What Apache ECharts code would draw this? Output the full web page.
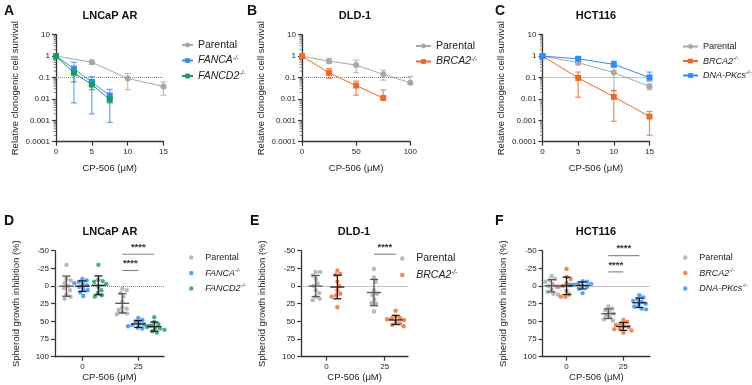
<!DOCTYPE html>
<html>
<head>
<meta charset="utf-8">
<script src="https://cdn.jsdelivr.net/npm/echarts@6/dist/echarts.min.js"></script>
<style>
  html, body { margin: 0; background: #fff; }
  #chart { width: 752px; height: 385px; }
</style>
</head>
<body>
<div id="chart"></div>
<script>
// ---- clonogenic survival (top row), relative survival, mean with error range ----
const aParentalX = [0, 5, 10, 15];
const aParentalY = [1, 0.52, 0.09, 0.038];
const aParentalLo = [null, 0.41, 0.027, 0.015];
const aParentalHi = [null, 0.65, 0.154, 0.063];
const aFancaX = [0, 2.5, 5, 7.5];
const aFancaY = [1, 0.26, 0.06, 0.0144];
const aFancaLo = [null, 0.0065, 0.002, 0.0008];
const aFancaHi = [null, 0.52, 0.11, 0.028];
const aFancd2X = [0, 2.5, 5, 7.5];
const aFancd2Y = [1, 0.166, 0.047, 0.0093];
const aFancd2Lo = [null, 0.063, 0.027, 0.0065];
const aFancd2Hi = [null, 0.24, 0.08, 0.011];

const bParentalX = [0, 25, 50, 75, 100];
const bParentalY = [1, 0.58, 0.38, 0.14, 0.057];
const bParentalLo = [null, 0.45, 0.17, 0.075, 0.05];
const bParentalHi = [null, 0.78, 0.65, 0.22, 0.11];
const bBrca2X = [0, 25, 50, 75];
const bBrca2Y = [1, 0.166, 0.042, 0.011];
const bBrca2Lo = [null, 0.09, 0.015, 0.011];
const bBrca2Hi = [null, 0.26, 0.068, 0.026];

const cParentalX = [0, 5, 10, 15];
const cParentalY = [1, 0.49, 0.17, 0.038];
const cParentalLo = [null, 0.38, 0.023, 0.027];
const cParentalHi = [null, 0.63, 0.4, 0.05];
const cBrca2X = [0, 5, 10, 15];
const cBrca2Y = [1, 0.096, 0.0125, 0.0015];
const cBrca2Lo = [null, 0.012, 0.0009, 0.0002];
const cBrca2Hi = [null, 0.18, 0.025, 0.0026];
const cDnapkX = [0, 5, 10, 15];
const cDnapkY = [1, 0.75, 0.41, 0.1];
const cDnapkLo = [null, 0.62, 0.3, 0.068];
const cDnapkHi = [null, 0.88, 0.58, 0.18];

// ---- spheroid growth inhibition (bottom row), individual spheroids ----
const doseLabels = ['0', '25'];
const dParental0 = [-30, -10, -8, -4, 0, 3, 6, 12, 15, 18];
const dFanca0 = [-10, -8, -6, -4, -3, -1, 1, 4, 6, 9, 14];
const dFancd20 = [-30, -9, -7, -6, -3, 1, 6, 10, 13, 15];
const dParental25 = [4, 6, 10, 15, 22, 30, 32, 34, 37, 39, 40];
const dFanca25 = [45, 48, 50, 53, 54, 55, 56, 57, 59, 60];
const dFancd225 = [44, 51, 54, 56, 58, 59, 60, 62, 64, 66];

const eParental0 = [-20, -20, -15, -10, -4, 0, 6, 10, 15, 18, 20];
const eBrca20 = [-22, -17, -16, -6, 0, 6, 11, 13, 15, 30];
const eParental25 = [-24, -12, -6, 6, 11, 13, 19, 24, 25, 36];
const eBrca225 = [35, 43, 45, 46, 47, 48, 51, 53, 55, 57];

const fParental0 = [-14, -10, -8, -6, -3, 0, 1, 5, 8, 11, 12];
const fBrca20 = [-24, -13, -10, -4, -2, 0, 1, 7, 12, 15, 15];
const fDnapk0 = [-7, -6, -4, -3, -2, -1, 0, 1, 4, 10];
const fParental25 = [29, 32, 34, 37, 39, 41, 44, 47, 49];
const fBrca225 = [48, 51, 53, 55, 57, 58, 60, 61, 63, 66];
const fDnapk25 = [13, 16, 19, 21, 22, 25, 27, 29, 32, 33];

// significance brackets: [dose index, from group, to group, y]
const dSig = [[1, 0, 1, -22], [1, 0, 2, -45]];
const eSig = [[1, 0, 1, -45]];
const fSig = [[1, 0, 1, -20], [1, 0, 2, -43]];

const GRAY = '#a8a8a8', BLUE = '#2f8cf0', ORANGE = '#ea6a2b', GREEN = '#1c9a5e';
const FONT = '"Liberation Sans", Arial, sans-serif';
const BOT_K = 106 / 150; // px per % on the bottom y axes

const chart = echarts.init(document.getElementById('chart'), null, { renderer: 'canvas' });

function mean(a) { return a.reduce((s, v) => s + v, 0) / a.length; }
function sd(a) { const m = mean(a); return Math.sqrt(a.reduce((s, v) => s + (v - m) * (v - m), 0) / (a.length - 1)); }

// simple beeswarm: horizontal pixel offsets so dots do not overlap
function swarm(vals, k, d) {
  const idx = vals.map((_, i) => i).sort((a, b) => vals[a] - vals[b]);
  const out = [], placed = [];
  idx.forEach(i => {
    const y = vals[i] * k;
    const near = placed.filter(p => Math.abs(p.y - y) < d);
    const cands = [0];
    near.forEach(p => { const w = Math.sqrt(d * d - (p.y - y) * (p.y - y)); cands.push(p.x + w, p.x - w); });
    cands.sort((a, b) => Math.abs(a) - Math.abs(b));
    const x = cands.find(c => near.every(p => (p.x - c) * (p.x - c) + (p.y - y) * (p.y - y) >= d * d - 1e-6));
    placed.push({ x, y });
    out[i] = x;
  });
  return out;
}

const axisLine = { show: true, onZero: false, lineStyle: { color: '#333', width: 1.3 } };
const axisTick = { show: true, length: 4, lineStyle: { color: '#333', width: 1.2 } };
const axisLabel = { fontSize: 8, color: '#222', fontFamily: FONT, margin: 6 };
const nameStyle = { fontSize: 9.5, color: '#222', fontFamily: FONT };

const grids = [
  { left: 56, top: 34.7, width: 107.5, height: 107 },
  { left: 302, top: 34.7, width: 108.3, height: 107 },
  { left: 542.5, top: 34.7, width: 107, height: 107 },
  { left: 55, top: 250.7, width: 109, height: 106 },
  { left: 301.3, top: 250.7, width: 106.7, height: 106 },
  { left: 542.7, top: 250.7, width: 107.3, height: 106 }
].map(g => Object.assign({ containLabel: false, outerBoundsMode: 'none' }, g));

const xAxes = [], yAxes = [], series = [];

// minor ticks of the log axes: 2..9 × each decade
const minorLogTicks = [];
for (let e = -4; e < 1; e++) for (let k = 2; k < 10; k++) minorLogTicks.push(k * Math.pow(10, e));

// top row axes
[[15, 5], [100, 50], [15, 5]].forEach(([max, interval], i) => {
  xAxes.push({
    gridIndex: i, type: 'value', min: 0, max, interval,
    axisLine, axisTick, axisLabel, splitLine: { show: false },
    name: 'CP-506 (μM)', nameLocation: 'middle', nameGap: 22, nameTextStyle: nameStyle
  });
  yAxes.push({
    gridIndex: i, type: 'log', logBase: 10, min: 0.0001, max: 10,
    axisLine, axisTick,
    axisLabel: Object.assign({}, axisLabel, { formatter: v => String(Number(v.toPrecision(6))) }),
    splitLine: { show: false },
    name: 'Relative clonogenic cell survival', nameLocation: 'middle', nameGap: 36, nameTextStyle: nameStyle
  });
  series.push({
    type: 'custom', xAxisIndex: i, yAxisIndex: i, silent: true, clip: false, z: 1,
    data: minorLogTicks.map(v => [0, v]),
    renderItem(params, api) {
      const p = api.coord([api.value(0), api.value(1)]);
      return { type: 'line', shape: { x1: p[0] - 2.5, y1: p[1], x2: p[0], y2: p[1] },
        style: { stroke: '#777', lineWidth: 0.9 } };
    }
  });
});

// bottom row axes
[[-0.49, 1.46], [-0.43, 1.40], [-0.42, 1.47]].forEach(([min, max], j) => {
  const i = j + 3;
  xAxes.push({
    gridIndex: i, type: 'value', min, max,
    axisLine,
    axisTick: Object.assign({}, axisTick, { customValues: [0, 1] }),
    axisLabel: Object.assign({}, axisLabel, { customValues: [0, 1], formatter: v => doseLabels[Math.round(v)] }),
    splitLine: { show: false },
    name: 'CP-506 (μM)', nameLocation: 'middle', nameGap: 16, nameTextStyle: nameStyle
  });
  yAxes.push({
    gridIndex: i, type: 'value', inverse: true, min: -50, max: 100, interval: 25,
    axisLine, axisTick, axisLabel, splitLine: { show: false },
    name: 'Spheroid growth inhibition (%)', nameLocation: 'middle', nameGap: 34, nameTextStyle: nameStyle
  });
});

const refLine = (y) => ({
  silent: true, symbol: 'none', label: { show: false },
  lineStyle: { type: 'dotted', color: '#8a8a8a', width: 1 },
  data: [{ yAxis: y }]
});

function curve(name, color, symbol, xs, ys, grid, withRef) {
  const s = {
    type: 'line', name, xAxisIndex: grid, yAxisIndex: grid,
    data: xs.map((x, i) => [x, ys[i]]),
    symbol, symbolSize: 6, itemStyle: { color }, lineStyle: { color, width: 1 }, z: 4
  };
  if (withRef) s.markLine = refLine(0.1);
  return s;
}

function errBars(color, xs, lo, hi, grid) {
  return {
    type: 'custom', xAxisIndex: grid, yAxisIndex: grid, z: 2, silent: true,
    data: xs.map((x, i) => [x, lo[i], hi[i]]).filter(d => d[1] != null),
    encode: { x: 0, y: [1, 2] },
    renderItem(params, api) {
      const p1 = api.coord([api.value(0), api.value(1)]);
      const p2 = api.coord([api.value(0), api.value(2)]);
      const c = 3, st = { stroke: color, lineWidth: 1.2, opacity: 0.75 };
      return {
        type: 'group', children: [
          { type: 'line', shape: { x1: p1[0], y1: p1[1], x2: p2[0], y2: p2[1] }, style: st },
          { type: 'line', shape: { x1: p1[0] - c, y1: p1[1], x2: p1[0] + c, y2: p1[1] }, style: st },
          { type: 'line', shape: { x1: p2[0] - c, y1: p2[1], x2: p2[0] + c, y2: p2[1] }, style: st }
        ]
      };
    }
  };
}

function curveSet(name, color, symbol, xs, ys, lo, hi, grid, withRef) {
  series.push(errBars(color, xs, lo, hi, grid));
  series.push(curve(name, color, symbol, xs, ys, grid, withRef));
}

curveSet('Parental|A', GRAY, 'circle', aParentalX, aParentalY, aParentalLo, aParentalHi, 0, true);
curveSet('FANCA|A', BLUE, 'rect', aFancaX, aFancaY, aFancaLo, aFancaHi, 0);
curveSet('FANCD2|A', GREEN, 'rect', aFancd2X, aFancd2Y, aFancd2Lo, aFancd2Hi, 0);
curveSet('Parental|B', GRAY, 'circle', bParentalX, bParentalY, bParentalLo, bParentalHi, 1, true);
curveSet('BRCA2|B', ORANGE, 'rect', bBrca2X, bBrca2Y, bBrca2Lo, bBrca2Hi, 1);
curveSet('Parental|C', GRAY, 'circle', cParentalX, cParentalY, cParentalLo, cParentalHi, 2, true);
curveSet('BRCA2|C', ORANGE, 'rect', cBrca2X, cBrca2Y, cBrca2Lo, cBrca2Hi, 2);
curveSet('DNA-PKcs|C', BLUE, 'rect', cDnapkX, cDnapkY, cDnapkLo, cDnapkHi, 2);

// bottom row: dots + mean ± SD
function dotPanel(grid, offsets, groups, sig) {
  groups.forEach((g, gi) => {
    const data = [];
    g.sets.forEach((vals, dose) => {
      const sw = swarm(vals, BOT_K, 4.6);
      vals.forEach((v, k) => data.push({ value: [dose, v], symbolOffset: [offsets[gi] + sw[k], 0] }));
    });
    series.push({
      type: 'scatter', name: g.name, xAxisIndex: grid, yAxisIndex: grid,
      symbol: 'circle', symbolSize: 4.4, itemStyle: { color: g.color }, data, z: 3,
      markLine: gi === 0 ? refLine(0) : undefined
    });
    const stroke = gi === 0 ? '#555' : '#1a1a1a';
    series.push({
      type: 'custom', xAxisIndex: grid, yAxisIndex: grid, z: 5, silent: true,
      data: g.sets.map((vals, dose) => [dose, mean(vals), sd(vals)]),
      renderItem(params, api) {
        const x = api.coord([api.value(0), 0])[0] + offsets[gi];
        const m = api.value(1), s = api.value(2);
        const ym = api.coord([0, m])[1], ylo = api.coord([0, m - s])[1], yhi = api.coord([0, m + s])[1];
        const st = { stroke, lineWidth: 1.3 };
        return {
          type: 'group', children: [
            { type: 'line', shape: { x1: x, y1: ylo, x2: x, y2: yhi }, style: st },
            { type: 'line', shape: { x1: x - 7, y1: ym, x2: x + 7, y2: ym }, style: st },
            { type: 'line', shape: { x1: x - 4, y1: ylo, x2: x + 4, y2: ylo }, style: st },
            { type: 'line', shape: { x1: x - 4, y1: yhi, x2: x + 4, y2: yhi }, style: st }
          ]
        };
      }
    });
  });
  series.push({
    type: 'custom', xAxisIndex: grid, yAxisIndex: grid, z: 6, silent: true,
    data: sig,
    renderItem(params, api) {
      const base = api.coord([api.value(0), api.value(3)]);
      const x1 = base[0] + offsets[api.value(1)], x2 = base[0] + offsets[api.value(2)];
      return {
        type: 'group', children: [
          { type: 'line', shape: { x1, y1: base[1], x2, y2: base[1] }, style: { stroke: '#888', lineWidth: 1.2 } },
          { type: 'text', x: (x1 + x2) / 2, y: base[1] - 2,
            style: { text: '****', fill: '#333', font: 'bold 9.5px ' + FONT, align: 'center', verticalAlign: 'bottom' } }
        ]
      };
    }
  });
}

dotPanel(3, [-16, 0, 16], [
  { name: 'Parental|D', color: GRAY, sets: [dParental0, dParental25] },
  { name: 'FANCA|D', color: BLUE, sets: [dFanca0, dFanca25] },
  { name: 'FANCD2|D', color: GREEN, sets: [dFancd20, dFancd225] }
], dSig);
dotPanel(4, [-10.7, 11], [
  { name: 'Parental|E', color: GRAY, sets: [eParental0, eParental25] },
  { name: 'BRCA2|E', color: ORANGE, sets: [eBrca20, eBrca225] }
], eSig);
dotPanel(5, [-15, 0, 16], [
  { name: 'Parental|F', color: GRAY, sets: [fParental0, fParental25] },
  { name: 'BRCA2|F', color: ORANGE, sets: [fBrca20, fBrca225] },
  { name: 'DNA-PKcs|F', color: BLUE, sets: [fDnapk0, fDnapk25] }
], fSig);

// legends
function legendText(fs) {
  const base = { fontFamily: FONT, color: '#222', lineHeight: 12 };
  return {
    fontSize: fs, color: '#222', fontFamily: FONT,
    rich: {
      n: Object.assign({ fontSize: fs }, base),
      i: Object.assign({ fontSize: fs, fontStyle: 'italic' }, base),
      s: Object.assign({ fontSize: fs * 0.62, fontStyle: 'italic', verticalAlign: 'top' }, base)
    }
  };
}
function legendLabel(name) {
  const base = name.split('|')[0];
  return base === 'Parental' ? '{n|Parental}' : '{i|' + base + '}{s|-/-}';
}
function lineLegend(left, top, w, fs, names) {
  return { left, top, padding: 0, orient: 'vertical', data: names, itemWidth: w, itemHeight: 6, itemGap: 4,
    textStyle: legendText(fs), formatter: legendLabel, selectedMode: false };
}
function dotLegend(left, top, fs, names) {
  return { left, top, padding: 0, orient: 'vertical', data: names, icon: 'circle', itemWidth: 18, itemHeight: 4.5, itemGap: 5,
    textStyle: legendText(fs), formatter: legendLabel, selectedMode: false };
}

const texts = [
  ['A', 4, 11, 'bold 14px'], ['B', 247, 11, 'bold 14px'], ['C', 495, 11, 'bold 14px'],
  ['D', 4, 221, 'bold 14px'], ['E', 250, 221, 'bold 14px'], ['F', 495, 221, 'bold 14px'],
  ['LNCaP AR', 110, 16, 'bold 11px'], ['DLD-1', 355, 16, 'bold 11px'], ['HCT116', 596, 16, 'bold 11px'],
  ['LNCaP AR', 110, 232, 'bold 11px'], ['DLD-1', 354, 232, 'bold 11px'], ['HCT116', 596, 232, 'bold 11px']
];

chart.setOption({
  animation: false,
  backgroundColor: '#fff',
  grid: grids,
  xAxis: xAxes,
  yAxis: yAxes,
  legend: [
    lineLegend(181, 39.5, 11, 10.5, ['Parental|A', 'FANCA|A', 'FANCD2|A']),
    lineLegend(415, 40.5, 15, 10.5, ['Parental|B', 'BRCA2|B']),
    lineLegend(682, 42, 15, 9, ['Parental|C', 'BRCA2|C', 'DNA-PKcs|C']),
    dotLegend(189, 253, 9, ['Parental|D', 'FANCA|D', 'FANCD2|D']),
    dotLegend(400, 253, 10.5, ['Parental|E', 'BRCA2|E']),
    dotLegend(683, 253, 9, ['Parental|F', 'BRCA2|F', 'DNA-PKcs|F'])
  ],
  graphic: texts.map(([t, x, y, f]) => ({
    type: 'text', x, y, silent: true,
    style: { text: t, font: f + ' ' + FONT, fill: '#111', align: t.length === 1 ? 'left' : 'center', verticalAlign: 'middle' }
  })),
  series
});
</script>
</body>
</html>
